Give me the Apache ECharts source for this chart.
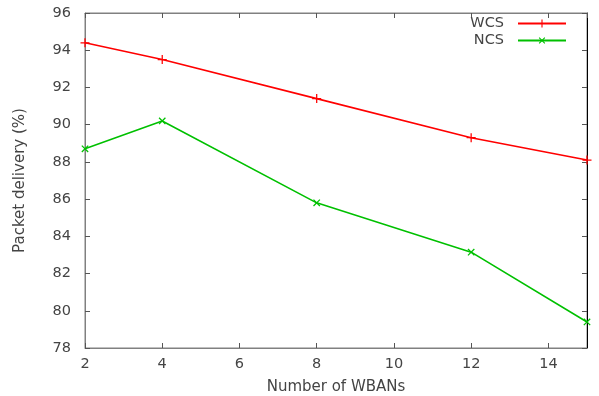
<!DOCTYPE html>
<html><head><meta charset="utf-8">
<script src="https://cdn.jsdelivr.net/npm/echarts@6/dist/echarts.min.js"></script>
<style>html,body{margin:0;padding:0;background:#fff}#c{width:599px;height:396px}</style>
</head><body><div id="c"></div>
<script>
const xValues = [2, 4, 8, 12, 15];
const wcs = [94.4, 93.5, 91.4, 89.3, 88.1];
const ncs = [88.7, 90.2, 85.8, 83.15, 79.4];
const seriesNames = ['WCS', 'NCS'];
const xTitle = 'Number of WBANs';
const yTitle = 'Packet delivery (%)';

const plus = 'path://M4.3,0H5.7V4.3H10V5.7H5.7V10H4.3V5.7H0V4.3H4.3Z';
const font = 'DejaVu Sans';
const txt = '#444';
const chart = echarts.init(document.getElementById('c'), null, {renderer: 'canvas'});
const tickStyle = {show: true, inside: true, length: 5, lineStyle: {color: '#555', width: 1}};
chart.setOption({
  animation: false,
  textStyle: {fontFamily: font},
  grid: {left: 85, right: 12, top: 13, bottom: 48, show: true, borderColor: '#808080', borderWidth: 1,
    outerBoundsMode: 'none', containLabel: false},
  legend: {
    orient: 'vertical', right: 32, top: 15, align: 'right', itemWidth: 48, itemHeight: 10, itemGap: 0,
    padding: 0,
    textStyle: {fontFamily: font, fontSize: 14.5, color: txt, padding: [0, 9, 0, 0], lineHeight: 17},
    data: seriesNames
  },
  xAxis: [{
    type: 'value', min: 2, max: 15, interval: 2, position: 'bottom',
    axisLine: {show: true, lineStyle: {color: '#808080'}},
    axisTick: tickStyle, splitLine: {show: false},
    axisLabel: {fontFamily: font, fontSize: 14.5, color: txt, margin: 9, showMaxLabel: false,
      formatter: v => (v % 2 === 0 ? String(v) : '')},
    name: xTitle, nameLocation: 'middle', nameGap: 32,
    nameTextStyle: {fontFamily: font, fontSize: 15, color: txt}
  }, {
    type: 'value', min: 2, max: 15, interval: 2, position: 'top',
    axisLine: {show: true, lineStyle: {color: '#808080'}},
    axisTick: tickStyle, splitLine: {show: false}, axisLabel: {show: false}
  }],
  yAxis: [{
    type: 'value', min: 78, max: 96, interval: 2, position: 'left',
    axisLine: {show: true, lineStyle: {color: '#808080'}},
    axisTick: tickStyle, splitLine: {show: false},
    axisLabel: {fontFamily: font, fontSize: 14.5, color: txt, margin: 14},
    name: yTitle, nameLocation: 'middle', nameGap: 57, nameRotate: 90,
    nameTextStyle: {fontFamily: font, fontSize: 15, color: txt}
  }, {
    type: 'value', min: 78, max: 96, interval: 2, position: 'right',
    axisLine: {show: true, lineStyle: {color: '#000'}},
    axisTick: tickStyle, splitLine: {show: false}, axisLabel: {show: false}
  }],
  series: [{
    name: seriesNames[0], type: 'line', data: xValues.map((x, i) => [x, wcs[i]]),
    color: '#ff0000', lineStyle: {width: 1.6, color: '#ff0000'},
    symbol: plus, symbolSize: 9, itemStyle: {color: '#ff0000'}, showAllSymbol: true
  }, {
    name: seriesNames[1], type: 'line', data: xValues.map((x, i) => [x, ncs[i]]),
    color: '#00c000', lineStyle: {width: 1.6, color: '#00c000'},
    symbol: plus, symbolRotate: 45, symbolSize: 9, itemStyle: {color: '#00c000'}, showAllSymbol: true
  }]
});
</script></body></html>
